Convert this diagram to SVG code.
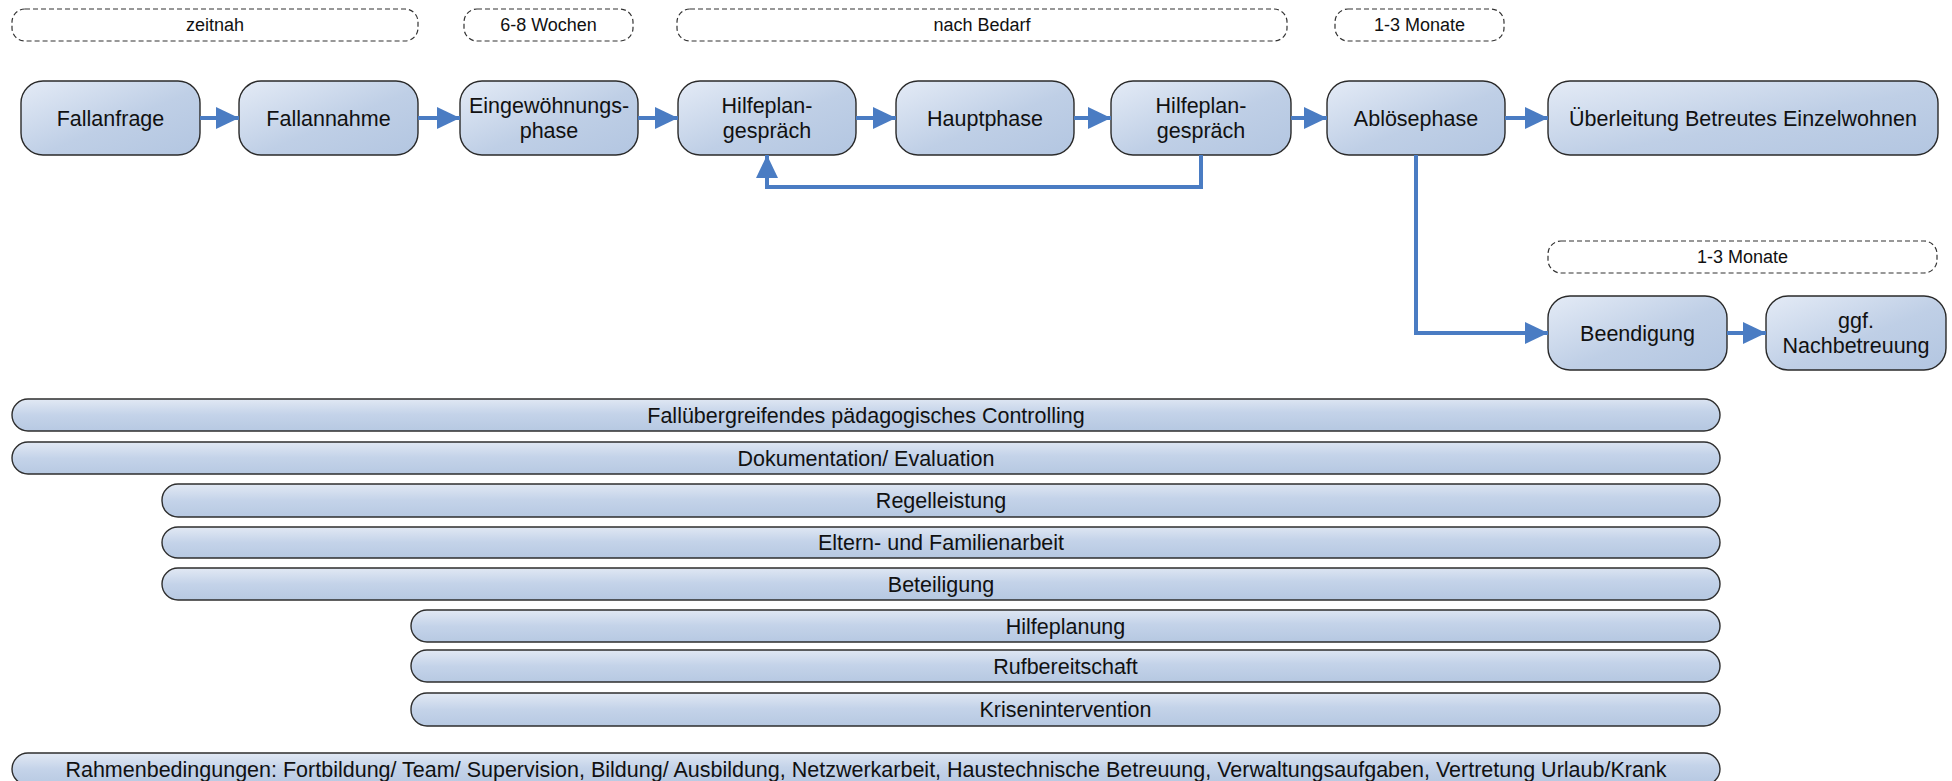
<svg xmlns="http://www.w3.org/2000/svg" width="1952" height="781" viewBox="0 0 1952 781">
<defs>
<linearGradient id="gNode" x1="0" y1="0" x2="1" y2="1">
<stop offset="0" stop-color="#e4ebf6"/>
<stop offset="0.55" stop-color="#bfcfe6"/>
<stop offset="1" stop-color="#b3c6e1"/>
</linearGradient>
<linearGradient id="gBar" x1="0" y1="0" x2="0.12" y2="1">
<stop offset="0" stop-color="#e2e9f4"/>
<stop offset="0.5" stop-color="#c4d3e9"/>
<stop offset="1" stop-color="#b7c9e2"/>
</linearGradient>
<marker id="arr" markerUnits="userSpaceOnUse" markerWidth="24" markerHeight="24" refX="23" refY="11" orient="auto">
<path d="M0,0 L23,11 L0,22 z" fill="#4a7cc3"/>
</marker>
<style>
.node rect{fill:url(#gNode);stroke:#2a2a2a;stroke-width:1.4}
.bar rect{fill:url(#gBar);stroke:#2e2e2e;stroke-width:1.4}
.lbl rect{fill:#fff;stroke:#333;stroke-width:1.2;stroke-dasharray:5 3}
text{font-family:"Liberation Sans",Arial,sans-serif;fill:#111;text-anchor:middle}
.node text{font-size:21.5px}
.bar text{font-size:21.5px}
.lbl text{font-size:18px}
.conn path{fill:none;stroke:#4a7cc3;stroke-width:4;marker-end:url(#arr)}
</style>
</defs>

<g id="lbl-zeitnah" class="lbl"><rect x="12" y="9" width="406" height="32" rx="13"/><text x="215" y="31">zeitnah</text></g>
<g id="lbl-6-8" class="lbl"><rect x="464" y="9" width="169" height="32" rx="13"/><text x="548.5" y="31">6-8 Wochen</text></g>
<g id="lbl-bedarf" class="lbl"><rect x="677" y="9" width="610" height="32" rx="13"/><text x="982" y="31">nach Bedarf</text></g>
<g id="lbl-1-3a" class="lbl"><rect x="1335" y="9" width="169" height="32" rx="13"/><text x="1419.5" y="31">1-3 Monate</text></g>
<g id="lbl-1-3b" class="lbl"><rect x="1548" y="241" width="389" height="32" rx="13"/><text x="1742.5" y="263">1-3 Monate</text></g>

<g id="n-fallanfrage" class="node"><rect x="21" y="81" width="179" height="74" rx="22"/><text x="110.5" y="126">Fallanfrage</text></g>
<g id="n-fallannahme" class="node"><rect x="239" y="81" width="179" height="74" rx="22"/><text x="328.5" y="126">Fallannahme</text></g>
<g id="n-eingew" class="node"><rect x="460" y="81" width="178" height="74" rx="22"/><text x="549" y="113">Eingewöhnungs-</text><text x="549" y="138">phase</text></g>
<g id="n-hp1" class="node"><rect x="678" y="81" width="178" height="74" rx="22"/><text x="767" y="113">Hilfeplan-</text><text x="767" y="138">gespräch</text></g>
<g id="n-haupt" class="node"><rect x="896" y="81" width="178" height="74" rx="22"/><text x="985" y="126">Hauptphase</text></g>
<g id="n-hp2" class="node"><rect x="1111" y="81" width="180" height="74" rx="22"/><text x="1201" y="113">Hilfeplan-</text><text x="1201" y="138">gespräch</text></g>
<g id="n-abloese" class="node"><rect x="1327" y="81" width="178" height="74" rx="22"/><text x="1416" y="126">Ablösephase</text></g>
<g id="n-ueberl" class="node"><rect x="1548" y="81" width="390" height="74" rx="22"/><text x="1743" y="126">Überleitung Betreutes Einzelwohnen</text></g>
<g id="n-beend" class="node"><rect x="1548" y="296" width="179" height="74" rx="22"/><text x="1637.5" y="341">Beendigung</text></g>
<g id="n-nach" class="node"><rect x="1766" y="296" width="180" height="74" rx="22"/><text x="1856" y="328">ggf.</text><text x="1856" y="353">Nachbetreuung</text></g>

<g id="connectors" class="conn">
<path d="M200,118 H239"/>
<path d="M418,118 H460"/>
<path d="M638,118 H678"/>
<path d="M856,118 H896"/>
<path d="M1074,118 H1111"/>
<path d="M1291,118 H1327"/>
<path d="M1505,118 H1548"/>
<path d="M1201,155 V187 H767 V155"/>
<path d="M1416,155 V333 H1548"/>
<path d="M1727,333 H1766"/>
</g>

<g id="b-controlling" class="bar"><rect x="12" y="399" width="1708" height="32" rx="16"/><text x="866" y="423">Fallübergreifendes pädagogisches Controlling</text></g>
<g id="b-doku" class="bar"><rect x="12" y="442" width="1708" height="32" rx="16"/><text x="866" y="466">Dokumentation/ Evaluation</text></g>
<g id="b-regel" class="bar"><rect x="162" y="484" width="1558" height="33" rx="16"/><text x="941" y="508">Regelleistung</text></g>
<g id="b-eltern" class="bar"><rect x="162" y="527" width="1558" height="31" rx="16"/><text x="941" y="550">Eltern- und Familienarbeit</text></g>
<g id="b-beteil" class="bar"><rect x="162" y="568" width="1558" height="32" rx="16"/><text x="941" y="592">Beteiligung</text></g>
<g id="b-hilfepl" class="bar"><rect x="411" y="610" width="1309" height="32" rx="16"/><text x="1065.5" y="634">Hilfeplanung</text></g>
<g id="b-ruf" class="bar"><rect x="411" y="650" width="1309" height="32" rx="16"/><text x="1065.5" y="674">Rufbereitschaft</text></g>
<g id="b-krise" class="bar"><rect x="411" y="693" width="1309" height="33" rx="16"/><text x="1065.5" y="717">Krisenintervention</text></g>
<g id="b-rahmen" class="bar"><rect x="12" y="753" width="1708" height="32" rx="16"/><text x="866" y="777">Rahmenbedingungen: Fortbildung/ Team/ Supervision, Bildung/ Ausbildung, Netzwerkarbeit, Haustechnische Betreuung, Verwaltungsaufgaben, Vertretung Urlaub/Krank</text></g>
</svg>
